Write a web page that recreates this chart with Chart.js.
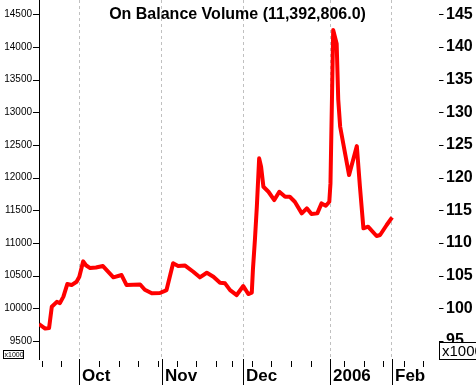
<!DOCTYPE html>
<html>
<head>
<meta charset="utf-8">
<script src="https://cdn.jsdelivr.net/npm/chart.js@4.4.1/dist/chart.umd.min.js"></script>
<style>
  html, body { margin: 0; padding: 0; background: #fff; }
  #wrap { width: 476px; height: 385px; }
</style>
</head>
<body>
<div id="wrap"><canvas id="obv" width="476" height="385"></canvas></div>
<script>
// x = trading-day position, y = on balance volume in thousands
const days = [-0.7, 0.9, 1.9, 2.6, 3.9, 4.7, 5.6, 6.6, 7.7, 9.0, 9.7, 10.7, 11.4, 12.5, 14.0, 15.8,
  18.5, 20.6, 21.9, 25.4, 26.6, 28.4, 30.5, 31.3, 32.2, 33.9, 35.2, 37.0, 39.1, 40.8, 42.6, 44.3,
  46.0, 47.3, 48.6, 50.3, 52.0, 53.3, 54.2, 54.5, 55.0, 55.5, 56.1, 56.6, 57.2, 58.5, 60.0, 61.3,
  62.8, 64.0, 65.3, 67.1, 68.4, 69.6, 71.1, 72.2, 73.3, 74.2, 74.5, 75.2, 76.1, 76.5, 77.0, 79.3,
  81.3, 82.1, 83.0, 84.2, 86.4, 87.3, 89.0, 90.4];
const obv = [9760, 9690, 9700, 10025, 10100, 10080, 10180, 10372, 10357, 10408, 10484, 10720, 10660, 10617, 10625, 10648,
  10475, 10510, 10357, 10365, 10285, 10230, 10235, 10255, 10280, 10690, 10650, 10655, 10560, 10475, 10545, 10484,
  10392, 10383, 10280, 10204, 10342, 10219, 10240, 10600, 11046, 11555, 12296, 12168, 11862, 11785, 11658, 11785,
  11709, 11709, 11632, 11454, 11531, 11444, 11454, 11607, 11571, 11632, 11913, 14260, 14050, 13200, 12780, 12040,
  12484, 11862, 11225, 11250, 11108, 11123, 11276, 11393];

const monthTicks = [9.7, 31.0, 52.0, 74.5, 90.3];
const monthLabels = ['Oct', 'Nov', 'Dec', '2006', 'Feb'];
const weekTicks = [0, 4.9, 14.9, 20, 24.9, 30, 34.9, 39.9, 45, 49.1, 54.2, 59.1, 64.2, 69.5, 78.1, 83.1, 88, 93.5, 98.4];

const leftLabels = [9500, 10000, 10500, 11000, 11500, 12000, 12500, 13000, 13500, 14000, 14500];
const rightLabels = [95, 100, 105, 110, 115, 120, 125, 130, 135, 140, 145];
const yMin = 9225, yMax = 14720;
const xMin = -0.7, xMax = 102.5;

const title = 'On Balance Volume (11,392,806.0)';
const unitText = 'x1000';

const FONT = 'Arial, "Liberation Sans", sans-serif';
Chart.defaults.font.family = FONT;
Chart.defaults.color = '#000';

const axisMarks = {
  id: 'axisMarks',
  afterDraw(chart) {
    const { ctx, chartArea: area, scales } = chart;
    const { x, y, y2 } = scales;
    ctx.save();
    ctx.strokeStyle = '#000';
    ctx.lineWidth = 1;
    ctx.beginPath();
    y.ticks.forEach(t => {
      const py = Math.round(y.getPixelForValue(t.value)) + 0.5;
      const len = leftLabels.includes(t.value) ? 6 : 2.5;
      ctx.moveTo(area.left - len, py);
      ctx.lineTo(area.left, py);
    });
    y2.ticks.forEach(t => {
      const py = Math.round(y2.getPixelForValue(t.value)) + 0.5;
      const len = rightLabels.includes(t.value) ? 4.5 : 2.5;
      ctx.moveTo(area.right, py);
      ctx.lineTo(area.right + len, py);
    });
    weekTicks.forEach(v => {
      const px = Math.round(x.getPixelForValue(v)) + 0.5;
      ctx.moveTo(px, area.bottom + 2);
      ctx.lineTo(px, area.bottom + 8);
    });
    monthTicks.forEach(v => {
      const px = Math.round(x.getPixelForValue(v)) + 0.5;
      ctx.moveTo(px, area.bottom);
      ctx.lineTo(px, chart.height);
    });
    ctx.stroke();

    ctx.fillStyle = '#000';
    ctx.textBaseline = 'alphabetic';
    ctx.textAlign = 'left';
    ctx.font = 'bold 17px ' + FONT;
    monthTicks.forEach((v, i) => {
      ctx.fillText(monthLabels[i], Math.round(x.getPixelForValue(v)) + 3, chart.height - 4);
    });

    ctx.textAlign = 'center';
    ctx.font = 'bold 16px ' + FONT;
    ctx.fillText(title, (area.left + area.right) / 2 - 1.5, area.top + 18.5);

    // unit boxes
    ctx.textAlign = 'left';
    ctx.fillStyle = '#fff';
    ctx.fillRect(area.left - 36, area.bottom - 8, 20, 8);
    ctx.strokeRect(area.left - 35.5, area.bottom - 8.5, 20, 8);
    ctx.fillStyle = '#000';
    ctx.font = '7px ' + FONT;
    ctx.fillText(unitText, area.left - 34.5, area.bottom - 2);

    ctx.fillStyle = '#fff';
    ctx.fillRect(area.right, area.bottom - 17, 50, 17);
    ctx.strokeRect(area.right + 0.5, area.bottom - 16.5, 50, 17);
    ctx.fillStyle = '#000';
    ctx.font = '15px ' + FONT;
    ctx.fillText(unitText, area.right + 3, area.bottom - 3);
    ctx.restore();
  }
};

function everyStep(min, max, step) {
  const out = [];
  for (let v = Math.ceil(min / step) * step; v <= max; v += step) out.push({ value: v });
  return out;
}

function fixWidth(w) {
  return s => {
    s.width = w;
    s.paddingTop = 0;
    s.paddingBottom = 0;
  };
}

new Chart(document.getElementById('obv').getContext('2d'), {
  type: 'line',
  data: {
    datasets: [{
      data: days.map((d, i) => ({ x: d, y: obv[i] })),
      borderColor: '#ff0000',
      borderWidth: 4,
      borderJoinStyle: 'round',
      pointRadius: 0,
      tension: 0,
      yAxisID: 'y'
    }]
  },
  options: {
    responsive: false,
    animation: false,
    events: [],
    layout: { padding: 0, autoPadding: false },
    plugins: { legend: { display: false }, tooltip: { enabled: false }, title: { display: false } },
    scales: {
      x: {
        type: 'linear',
        min: xMin,
        max: xMax,
        afterBuildTicks: s => { s.ticks = monthTicks.map(v => ({ value: v })); },
        afterFit: s => { s.height = 26; s.paddingLeft = 0; s.paddingRight = 0; },
        ticks: { display: false },
        grid: { color: '#c0c0c0', lineWidth: 1, drawTicks: false, borderDash: [3, 3] },
        border: { display: false, dash: [3, 3] }
      },
      y: {
        position: 'left',
        min: yMin,
        max: yMax,
        afterBuildTicks: s => { s.ticks = everyStep(yMin, yMax, 100); },
        afterFit: fixWidth(39),
        ticks: {
          autoSkip: false,
          padding: 7,
          font: { size: 10 },
          callback: v => leftLabels.includes(v) ? String(v) : null
        },
        grid: { drawOnChartArea: false, drawTicks: false },
        border: { display: true, color: '#000', width: 1 }
      },
      y2: {
        position: 'right',
        min: yMin / 100,
        max: yMax / 100,
        afterBuildTicks: s => { s.ticks = everyStep(yMin / 100, yMax / 100, 1); },
        afterFit: fixWidth(37),
        ticks: {
          autoSkip: false,
          padding: 7,
          font: { size: 16, weight: 'bold' },
          callback: v => rightLabels.includes(v) ? String(v) : null
        },
        grid: { drawOnChartArea: false, drawTicks: false },
        border: { display: false }
      }
    }
  },
  plugins: [axisMarks]
});
</script>
</body>
</html>
